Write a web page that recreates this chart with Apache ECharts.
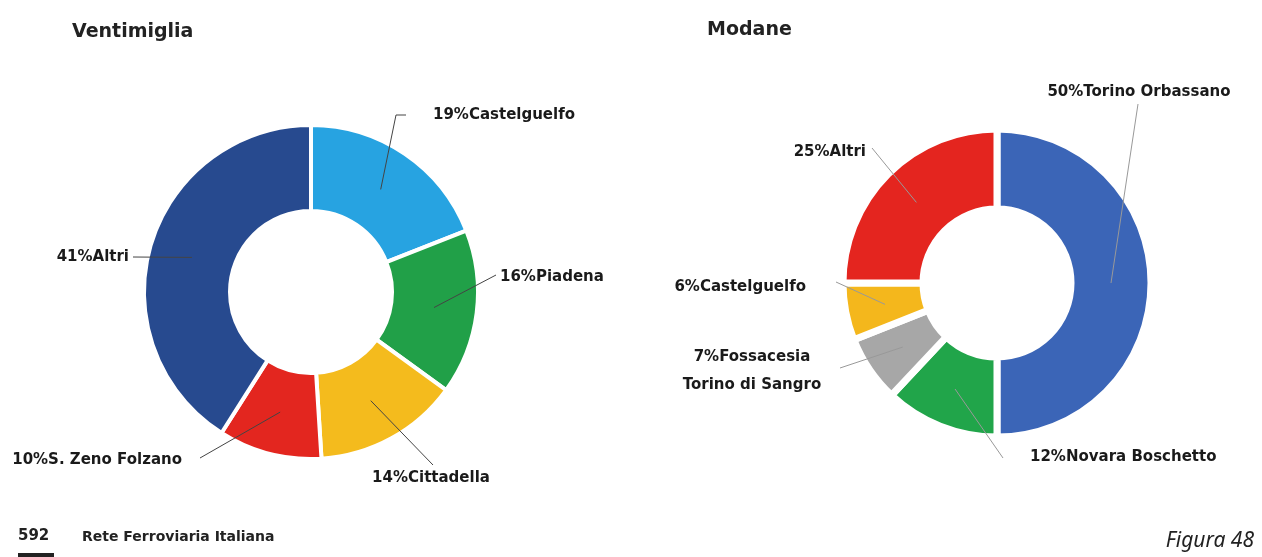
<!DOCTYPE html>
<html>
<head>
<meta charset="utf-8">
<script src="https://cdn.jsdelivr.net/npm/echarts@6/dist/echarts.min.js"></script>
<style>
  html, body { margin: 0; padding: 0; background: #fff; }
  #chart { width: 1262px; height: 557px; }
</style>
</head>
<body>
<div id="chart"></div>
<script>
// Ventimiglia
const ventNames = ['Castelguelfo', 'Piadena', 'Cittadella', 'S. Zeno Folzano', 'Altri']
const ventValues = [19, 16, 14, 10, 41]
const ventColors = ['#27a3e1', '#21a048', '#f4bb1d', '#e3261f', '#274a8f']

// Modane
const modNames = ['Torino Orbassano', 'Novara Boschetto', 'Fossacesia\nTorino di Sangro', 'Castelguelfo', 'Altri']
const modValues = [50, 12, 7, 6, 25]
const modColors = ['#3b65b7', '#21a54a', '#a7a7a7', '#f4b71c', '#e4251f']

// label placement (text anchor + where the leader line ends)
const ventLabelPos = [
  { x: 433, y: 115, align: 'left', line: [[396, 115], [406, 115]] },
  { x: 500, y: 277, align: 'left', line: [[496, 275], [496, 275]] },
  { x: 431, y: 478, align: 'center', line: [[433, 465], [433, 465]] },
  { x: 182, y: 460, align: 'right', line: [[200, 458], [200, 458]] },
  { x: 129, y: 257, align: 'right', line: [[133, 257], [133, 257]] },
]
const modLabelPos = [
  { x: 1139, y: 92, align: 'center', line: [[1138, 104], [1138, 104]] },
  { x: 1030, y: 457, align: 'left', line: [[1003, 458], [1003, 458]] },
  { x: 752, y: 371, align: 'center', line: [[840, 368], [840, 368]] },
  { x: 806, y: 287, align: 'right', line: [[836, 282], [836, 282]] },
  { x: 866, y: 152, align: 'right', line: [[872, 148], [872, 148]] },
]

const labelFont = {
  fontFamily: 'DejaVu Sans',
  fontWeight: 'bold',
  fontSize: 15,
  color: '#1a1a1a',
}

const makeData = (names, values, colors) =>
  names.map((n, i) => ({ name: n, value: values[i], itemStyle: { color: colors[i] } }))

// donut ring
const ring = (names, values, colors, center, radius, border) => ({
  type: 'pie',
  center,
  radius,
  startAngle: 90,
  silent: true,
  label: { show: false },
  labelLine: { show: false },
  itemStyle: { borderColor: '#fff', borderWidth: border },
  data: makeData(names, values, colors),
})

// transparent pie up to the middle of the ring, only for labels and leader lines
const labels = (names, values, center, r, pos, lineColor) => ({
  type: 'pie',
  center,
  radius: [0, r],
  startAngle: 90,
  silent: true,
  z: 5,
  itemStyle: { color: 'rgba(0,0,0,0)' },
  emphasis: { disabled: true },
  label: {
    show: true,
    position: 'outside',
    formatter: '{c}%{b}',
    width: 320,
    overflow: 'none',
    lineHeight: 28,
    ...labelFont,
  },
  labelLine: { show: true, length: 10, length2: 10, lineStyle: { color: lineColor, width: 1 } },
  labelLayout: (p) => {
    const L = pos[p.dataIndex]
    const start = p.labelLinePoints ? p.labelLinePoints[0] : L.line[0]
    return {
      x: L.x,
      y: L.y,
      align: L.align,
      verticalAlign: 'middle',
      labelLinePoints: [start].concat(L.line),
    }
  },
  data: names.map((n, i) => ({ name: n, value: values[i] })),
})

const chart = echarts.init(document.getElementById('chart'))

chart.setOption({
  animation: false,
  backgroundColor: '#fff',
  title: [
    {
      text: 'Ventimiglia',
      left: 67,
      top: 18,
      textStyle: { fontFamily: 'DejaVu Sans', fontWeight: 'bold', fontSize: 19, color: '#222' },
    },
    {
      text: 'Modane',
      left: 702,
      top: 16,
      textStyle: { fontFamily: 'DejaVu Sans', fontWeight: 'bold', fontSize: 19, color: '#222' },
    },
  ],
  series: [
    ring(ventNames, ventValues, ventColors, [311, 292], [81, 167], 4),
    labels(ventNames, ventValues, [311, 292], 124, ventLabelPos, '#444'),
    ring(modNames, modValues, modColors, [997, 283], [74, 154], 7),
    labels(modNames, modValues, [997, 283], 114, modLabelPos, '#999'),
  ],
  graphic: [
    {
      type: 'text',
      left: 18,
      top: 529,
      style: { text: '592', fontFamily: 'DejaVu Sans', fontWeight: 'bold', fontSize: 15, fill: '#222' },
    },
    { type: 'rect', left: 18, top: 553, shape: { width: 36, height: 4 }, style: { fill: '#222' } },
    {
      type: 'text',
      left: 82,
      top: 530,
      style: { text: 'Rete Ferroviaria Italiana', fontFamily: 'DejaVu Sans', fontWeight: 'bold', fontSize: 14, fill: '#222' },
    },
    {
      type: 'text',
      right: 8,
      top: 531,
      style: { text: 'Figura 48', fontFamily: 'Noto Sans', fontStyle: 'italic', fontSize: 21, fill: '#222' },
    },
  ],
})

window.addEventListener('resize', () => {
  chart.resize()
})
</script>
</body>
</html>
